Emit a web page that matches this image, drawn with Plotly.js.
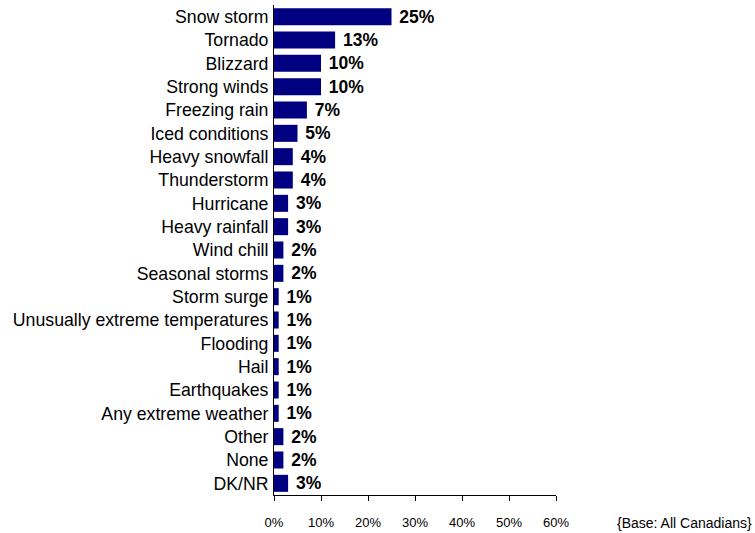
<!DOCTYPE html>
<html>
<head>
<meta charset="utf-8">
<script src="https://cdn.plot.ly/plotly-3.0.1.min.js"></script>
<style>html,body{margin:0;padding:0;background:#fff;}#chart{width:755px;height:533px;}</style>
</head>
<body>
<div id="chart"></div>
<script>
const categories = ["Snow storm","Tornado","Blizzard","Strong winds","Freezing rain","Iced conditions","Heavy snowfall","Thunderstorm","Hurricane","Heavy rainfall","Wind chill","Seasonal storms","Storm surge","Unusually extreme temperatures","Flooding","Hail","Earthquakes","Any extreme weather","Other","None","DK/NR"];
const values = [25,13,10,10,7,5,4,4,3,3,2,2,1,1,1,1,1,1,2,2,3];
const xTickValues = [0,10,20,30,40,50,60];
const xTickLabels = ["0%","10%","20%","30%","40%","50%","60%"];
const footnote = "{Base: All Canadians}";

const trace = {
  type: 'bar',
  orientation: 'h',
  y: categories,
  x: values,
  text: values.map(v => v + '%'),
  textposition: 'outside',
  constraintext: 'none',
  cliponaxis: false,
  textfont: {family: 'Liberation Sans, Arial, sans-serif', size: 17.5, color: '#000'},
  texttemplate: '<b> %{text}</b>',
  marker: {color: '#000080'},
  hoverinfo: 'none'
};

const layout = {
  width: 755, height: 533,
  margin: {l: 274, r: 199, t: 5, b: 38},
  paper_bgcolor: '#fff', plot_bgcolor: '#fff',
  showlegend: false,
  bargap: 0.27,
  font: {family: 'Liberation Sans, Arial, sans-serif', color: '#000'},
  xaxis: {
    range: [0, 60], tickmode: 'array', tickvals: xTickValues, ticktext: xTickLabels,
    showgrid: false, zeroline: false,
    showline: true, linecolor: '#000', linewidth: 1,
    ticks: 'outside', ticklen: 5, tickcolor: '#000',
    tickfont: {size: 13, color: '#000'},
    ticklabelstandoff: 10
  },
  yaxis: {
    autorange: 'reversed', type: 'category',
    showgrid: false, zeroline: false,
    showline: true, linecolor: '#000', linewidth: 1,
    ticks: '', tickfont: {size: 17.7, color: '#000'},
    ticklabelstandoff: 1
  },
  annotations: [{
    text: footnote, xref: 'paper', yref: 'paper',
    x: 1.209, y: -0.057, xanchor: 'left', yanchor: 'middle',
    showarrow: false, font: {size: 14, color: '#000'}
  }]
};

Plotly.newPlot('chart', [trace], layout, {displayModeBar: false, staticPlot: true});
</script>
</body>
</html>
